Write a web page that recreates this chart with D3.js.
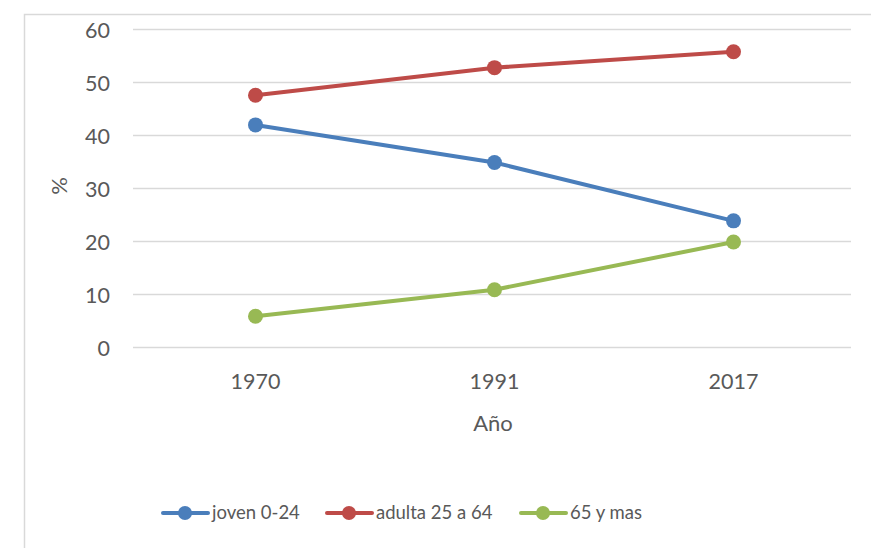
<!DOCTYPE html>
<html><head><meta charset="utf-8">
<script src="https://cdn.jsdelivr.net/npm/d3@7"></script>
<style>body{margin:0;background:#fff;} text{font-family:Lato, "Open Sans", sans-serif;}</style>
</head><body>
<svg id="c" width="871" height="548"></svg>
<script>
const years = ["1970", "1991", "2017"];
const joven = [42, 34.9, 23.9];
const adulta = [47.6, 52.8, 55.8];
const mayores = [5.9, 10.9, 19.9];
const seriesNames = ["joven 0-24", "adulta 25 a 64", "65 y mas"];
const colors = ["#4A7EBB", "#BE4B48", "#98B954"];
const yTicks = [0, 10, 20, 30, 40, 50, 60];

const series = [joven, adulta, mayores].map((v, i) => ({name: seriesNames[i], values: v, color: colors[i]}));

const svg = d3.select("#c");
svg.append("rect").attr("x", 24.5).attr("y", 14.5).attr("width", 900).attr("height", 600)
  .attr("fill", "#fff").attr("stroke", "#d9d9d9").attr("stroke-width", 1.5);

const x = d3.scaleBand().domain(years).range([136, 853]);
const y = d3.scaleLinear().domain([0, 60]).range([347.5, 29.5]);
const txt = "#595959";

const grid = svg.append("g");
grid.selectAll("line").data(yTicks).join("line")
  .attr("x1", 133).attr("x2", 851).attr("y1", d => y(d)).attr("y2", d => y(d))
  .attr("stroke", "#d9d9d9").attr("stroke-width", 1.3);

const yAxis = svg.append("g").attr("transform", "translate(133,0)")
  .call(d3.axisLeft(y).tickValues(yTicks).tickSize(0).tickPadding(23));
yAxis.select(".domain").remove();
yAxis.selectAll("text").attr("fill", txt).attr("font-size", 21.5).attr("dy", "0.35em")
  .style("font-family", "Lato, sans-serif");

const xAxis = svg.append("g").attr("transform", "translate(0,347.5)")
  .call(d3.axisBottom(x).tickSize(0).tickPadding(24));
xAxis.select(".domain").remove();
xAxis.selectAll("text").attr("fill", txt).attr("font-size", 21.5)
  .style("font-family", "Lato, sans-serif");
xAxis.selectAll("text").attr("y", 41).attr("dy", "0");

svg.append("text").attr("x", 493).attr("y", 431).attr("text-anchor", "middle")
  .attr("fill", txt).attr("font-size", 22).text("Año");
svg.append("text").attr("transform", "translate(67,186) rotate(-90)").attr("text-anchor", "middle")
  .attr("fill", txt).attr("font-size", 22).text("%");

const line = d3.line().x((d, i) => x(years[i]) + x.bandwidth() / 2).y(d => y(d));
const sg = svg.append("g").selectAll("g").data(series).join("g");
sg.append("path").attr("d", d => line(d.values)).attr("fill", "none")
  .attr("stroke", d => d.color).attr("stroke-width", 4).attr("stroke-linejoin", "round").attr("stroke-linecap", "round");
sg.selectAll("circle").data(d => d.values.map((v, i) => ({v, i, c: d.color}))).join("circle")
  .attr("cx", d => x(years[d.i]) + x.bandwidth() / 2).attr("cy", d => y(d.v)).attr("r", 7.5)
  .attr("fill", d => d.c);

const legX = [163, 327, 521];
const lg = svg.append("g").selectAll("g").data(series).join("g")
  .attr("transform", (d, i) => `translate(${legX[i]},513)`);
lg.append("line").attr("x1", 0).attr("x2", 45).attr("stroke", d => d.color).attr("stroke-width", 4).attr("stroke-linecap", "round");
lg.append("circle").attr("cx", 22).attr("r", 7).attr("fill", d => d.color);
lg.append("text").attr("x", 49).attr("dy", "0.35em").attr("fill", txt).attr("font-size", 18.5).text(d => d.name);
</script>
</body></html>
